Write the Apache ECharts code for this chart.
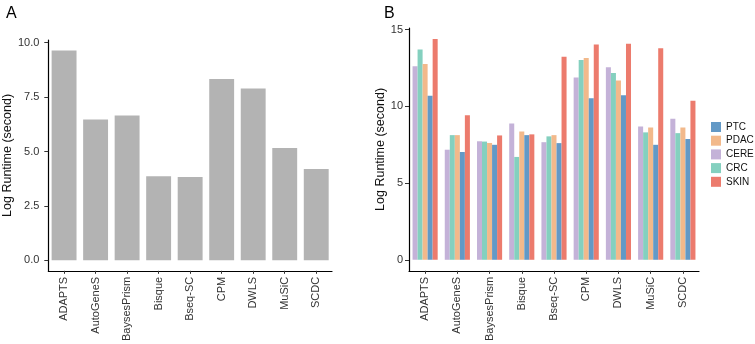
<!DOCTYPE html>
<html>
<head>
<meta charset="utf-8">
<script src="https://cdn.jsdelivr.net/npm/echarts@6/dist/echarts.min.js"></script>
<style>
  html, body { margin: 0; padding: 0; background: #fff; }
  #chart { width: 755px; height: 344px; }
</style>
</head>
<body>
<div id="chart"></div>
<script>
// Métodos (eje x de ambos paneles)
const methods = ['ADAPTS', 'AutoGeneS', 'BaysesPrism', 'Bisque', 'Bseq-SC', 'CPM', 'DWLS', 'MuSiC', 'SCDC'];

// Panel A: tiempo medio (log)
const runtimeA = [9.64, 6.47, 6.65, 3.86, 3.83, 8.33, 7.89, 5.16, 4.20];
const ticksA = [0, 2.5, 5, 7.5, 10];

// Panel B: tiempo por dataset (log)
const cere = [12.60, 7.17, 7.72, 8.87, 7.66, 11.87, 12.55, 8.68, 9.19];
const crc  = [13.70, 8.12, 7.70, 6.70, 8.04, 13.02, 12.17, 8.30, 8.25];
const pdac = [12.76, 8.12, 7.61, 8.36, 8.12, 13.15, 11.68, 8.62, 8.62];
const ptc  = [10.68, 7.02, 7.49, 8.12, 7.60, 10.53, 10.72, 7.49, 7.87];
const skin = [14.38, 9.42, 8.10, 8.17, 13.23, 14.02, 14.08, 13.78, 10.36];
const ticksB = [0, 5, 10, 15];
const legendOrder = ['PTC', 'PDAC', 'CERE', 'CRC', 'SKIN'];

const colors = { PTC: '#6399c6', PDAC: '#f2b98b', CERE: '#c4b2d8', CRC: '#84d0bf', SKIN: '#ec7b6d' };

// Rango tipo ggplot (expansión del 5%)
function range(values) {
    const m = Math.max(...values);
    return { min: -m * 0.05, max: m * 1.05 };
}
const rA = range(runtimeA);
const rB = range([].concat(cere, crc, pdac, ptc, skin));

const font = 'Liberation Sans, Arial, sans-serif';
const axisLine = { show: true, onZero: false, lineStyle: { color: '#000', width: 1.2 } };

function xAxisFor(gridIndex) {
    return {
        type: 'category', gridIndex, data: methods, position: 'bottom',
        axisLine,
        axisTick: { show: true, alignWithLabel: true, length: 3, lineStyle: { color: '#333' } },
        axisLabel: { rotate: 90, margin: 6, fontSize: 11, color: '#333', fontFamily: font, interval: 0 }
    };
}

function yAxisFor(gridIndex, r, ticks, digits, gap, margin) {
    return {
        type: 'value', gridIndex, min: r.min, max: r.max,
        name: 'Log Runtime (second)', nameLocation: 'middle', nameGap: gap,
        nameTextStyle: { fontSize: 12.5, color: '#111', fontFamily: font },
        axisLine,
        axisTick: { show: true, length: 4, customValues: ticks, lineStyle: { color: '#333' } },
        axisLabel: {
            customValues: ticks, margin, fontSize: 11, color: '#333', fontFamily: font,
            formatter: v => v.toFixed(digits)
        },
        splitLine: { show: false }
    };
}

function seriesB(name, data) {
    return {
        name, type: 'bar', xAxisIndex: 1, yAxisIndex: 1, data,
        barGap: '0%', barCategoryGap: '22%',
        itemStyle: { color: colors[name] }
    };
}

const chart = echarts.init(document.getElementById('chart'));
chart.setOption({
    animation: false,
    title: [
        { text: 'A', left: 1, top: 1, textStyle: { fontSize: 16, fontWeight: 'normal', color: '#000', fontFamily: font } },
        { text: 'B', left: 379, top: 1, textStyle: { fontSize: 16, fontWeight: 'normal', color: '#000', fontFamily: font } }
    ],
    legend: {
        data: legendOrder, orient: 'vertical', left: 711, top: 122, padding: 0,
        icon: 'rect', itemWidth: 10, itemHeight: 10, itemGap: 3.7,
        textStyle: { fontSize: 10, color: '#111', fontFamily: font }
    },
    grid: [
        { left: 46, top: 40, width: 286, height: 237 },
        { left: 409, top: 28, width: 290, height: 249 }
    ],
    xAxis: [xAxisFor(0), xAxisFor(1)],
    yAxis: [yAxisFor(0, rA, ticksA, 1, 34, 9), yAxisFor(1, rB, ticksB, 0, 22, 6)],
    series: [
        {
            name: 'Runtime', type: 'bar', xAxisIndex: 0, yAxisIndex: 0, data: runtimeA,
            barCategoryGap: '21%', itemStyle: { color: '#b3b3b3' }
        },
        seriesB('CERE', cere),
        seriesB('CRC', crc),
        seriesB('PDAC', pdac),
        seriesB('PTC', ptc),
        seriesB('SKIN', skin)
    ]
});
</script>
</body>
</html>
